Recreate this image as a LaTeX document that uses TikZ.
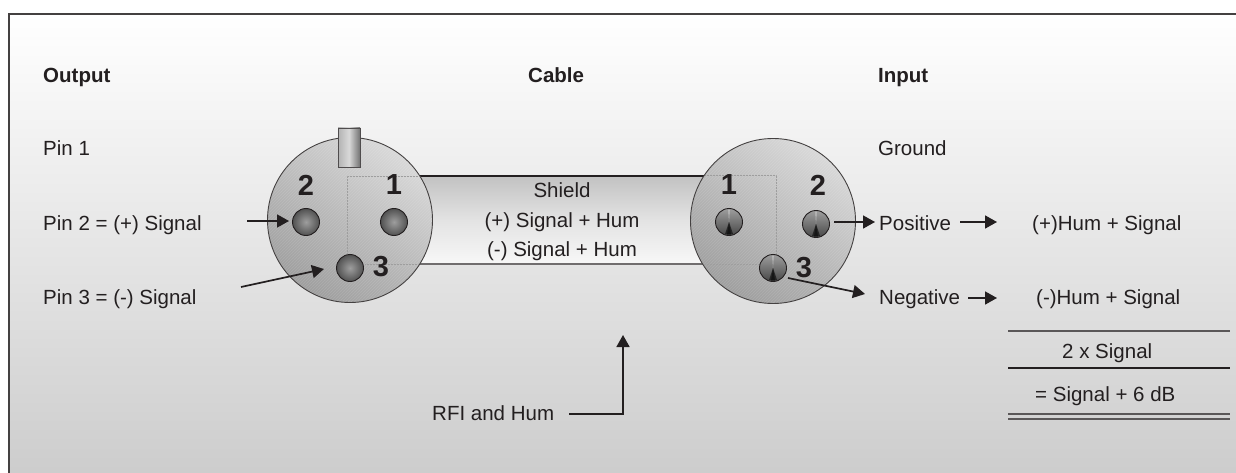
\documentclass[tikz,border=0pt]{standalone}
\usepackage{fontspec}
\setmainfont{Liberation Sans}
\usetikzlibrary{arrows.meta,shadings,patterns}
\definecolor{ink}{HTML}{231F20}
\tikzset{
  x=1pt,y=-1pt,
  lbl/.style={font=\fontsize{20.5}{22}\selectfont,text=ink,inner sep=0pt,anchor=base west},
  ctr/.style={font=\fontsize{20.5}{22}\selectfont,text=ink,inner sep=0pt,anchor=base},
  hd/.style={lbl,font=\fontsize{20.5}{22}\selectfont\bfseries},
  num/.style={font=\fontsize{29}{30}\selectfont\bfseries,text=ink,inner sep=0pt,anchor=center},
  arr/.style={draw=ink,line width=1.7pt,-{Triangle[length=12pt,width=13pt]}},
  rule/.style={draw=ink!75,line width=1.1pt},
  disc/.style={circle,draw=ink!85,line width=0.9pt,minimum size=165pt,inner sep=0pt,outer sep=0pt,top color=black!15,bottom color=black!38,shading angle=-35},
  hatch/.style={pattern=north east lines,pattern color=white,opacity=0.12},
  pinA/.style={circle,draw=ink,line width=0.9pt,minimum size=27pt,inner sep=0pt,outer sep=0pt,inner color=black!38,outer color=black!68},
  pinB/.style={circle,draw=ink,line width=0.9pt,minimum size=27pt,inner sep=0pt,outer sep=0pt,top color=black!38,bottom color=black!72},
  glint/.style={fill=black!18,draw=none,opacity=0.7},
  shade wedge/.style={fill=black!95,draw=none,opacity=0.65},
  dots/.style={draw=black!38,line width=0.5pt,densely dotted},
}
\newcommand{\pinmarks}[1]{%
  \fill[glint] ([xshift=-0.8pt,yshift=-1pt]#1.north) -- ([xshift=0.8pt,yshift=-1pt]#1.north) -- (#1.center) -- cycle;
  \fill[shade wedge] ([xshift=-4pt,yshift=1.5pt]#1.south) -- ([xshift=4pt,yshift=1.5pt]#1.south) -- (#1.center) -- cycle;
  \fill[shade wedge] ([xshift=-2pt,yshift=1pt]#1.south) -- ([xshift=2pt,yshift=1pt]#1.south) -- (#1.center) -- cycle;
}
\begin{document}
\begin{tikzpicture}
\useasboundingbox (0,0) rectangle (1236,473);
\fill[white] (0,0) rectangle (1236,473);
\shade[top color=white,bottom color=black!20,draw=ink!85,line width=1.6pt] (9,14) rectangle (1240,480);
% cable
\shade[top color=black!24,bottom color=black!3,middle color=black!11] (410,176) rectangle (715,264);
\draw[draw=ink,line width=1.2pt] (410,176) -- (715,176);
\draw[draw=ink!65,line width=1.2pt] (410,264) -- (715,264);
% connectors
\node[disc] (L) at (350,220) {};
\node[disc] (R) at (773,221) {};
\fill[hatch] (L) circle[radius=82pt];
\fill[hatch] (R) circle[radius=82pt];
\shade[left color=black!30,right color=black!55,middle color=black!15,draw=ink!80,line width=0.9pt] (338,128) rectangle (360,167);
\draw[dots] (347,253) -- (347,176) -- (418,176);
\draw[dots] (418,264) -- (365,264);
\draw[dots] (705,175) -- (776,175) -- (776,258);
\draw[dots] (705,264) -- (760,264);
\node[pinA] (p2) at (306,222) {};
\node[pinA] (p1) at (394,222) {};
\node[pinA] (p3) at (350,268) {};
\node[pinB] (q1) at (729,222) {};
\node[pinB] (q2) at (816,224) {};
\node[pinB] (q3) at (773,268) {};
\pinmarks{q1}\pinmarks{q2}\pinmarks{q3}
\node[num] at (306,185) {2};
\node[num] at (394,185) {1};
\node[num] at (381,267) {3};
\node[num] at (729,185) {1};
\node[num] at (818,185) {2};
\node[num] at (804,268) {3};
% headings
\node[hd] (output) at (43,83) {Output};
\node[hd] (cable) at (528,83) {Cable};
\node[hd] (input) at (878,83) {Input};
\node[lbl] (pin1) at (43,156) {Pin 1};
\node[lbl] (pin2) at (43,230) {Pin 2 = (+) Signal};
\node[lbl] (pin3) at (43,304) {Pin 3 = (-) Signal};
\node[lbl] (ground) at (878,156) {Ground};
\node[lbl] (pos) at (879,230) {Positive};
\node[lbl] (neg) at (879,304) {Negative};
\node[ctr] (shield) at (562,197) {Shield};
\node[ctr] (splus) at (562,227) {(+) Signal + Hum};
\node[ctr] (sminus) at (562,256) {(-) Signal + Hum};
\node[lbl] (hp) at (1032,230) {(+)Hum + Signal};
\node[lbl] (hm) at (1036,304) {(-)Hum + Signal};
\node[lbl] (two) at (1062,358) {2 x Signal};
\node[lbl] (eq) at (1035,401) {= Signal + 6 dB};
\node[lbl] (rfi) at (432,420) {RFI and Hum};
% arrows
\coordinate (a1) at (247,221);
\coordinate (a1t) at (289,221);
\coordinate (a2) at (241,287);
\coordinate (a2t) at (324,269);
\coordinate (a3) at (834,222);
\coordinate (a3t) at (875,222);
\coordinate (a4) at (788,278);
\coordinate (a5) at (865,294);
\coordinate (a6) at (960,222);
\coordinate (a6t) at (997,222);
\coordinate (a7) at (968,298);
\coordinate (a7t) at (997,298);
\coordinate (a8) at (569,414);
\coordinate (a9) at (623,414);
\coordinate (a10) at (623,335);
\draw[arr] (a1) -- (a1t);
\draw[arr] (a2) -- (a2t);
\draw[arr] (a3) -- (a3t);
\draw[arr] (a4) -- (a5);
\draw[arr] (a6) -- (a6t);
\draw[arr] (a7) -- (a7t);
\draw[arr] (a8) -- (a9) -- (a10);
% rules
\draw[rule] (1008,331) -- (1230,331);
\draw[rule,draw=ink] (1008,368) -- (1230,368);
\draw[rule] (1008,414) -- (1230,414);
\draw[rule] (1008,419) -- (1230,419);
\end{tikzpicture}
\end{document}
